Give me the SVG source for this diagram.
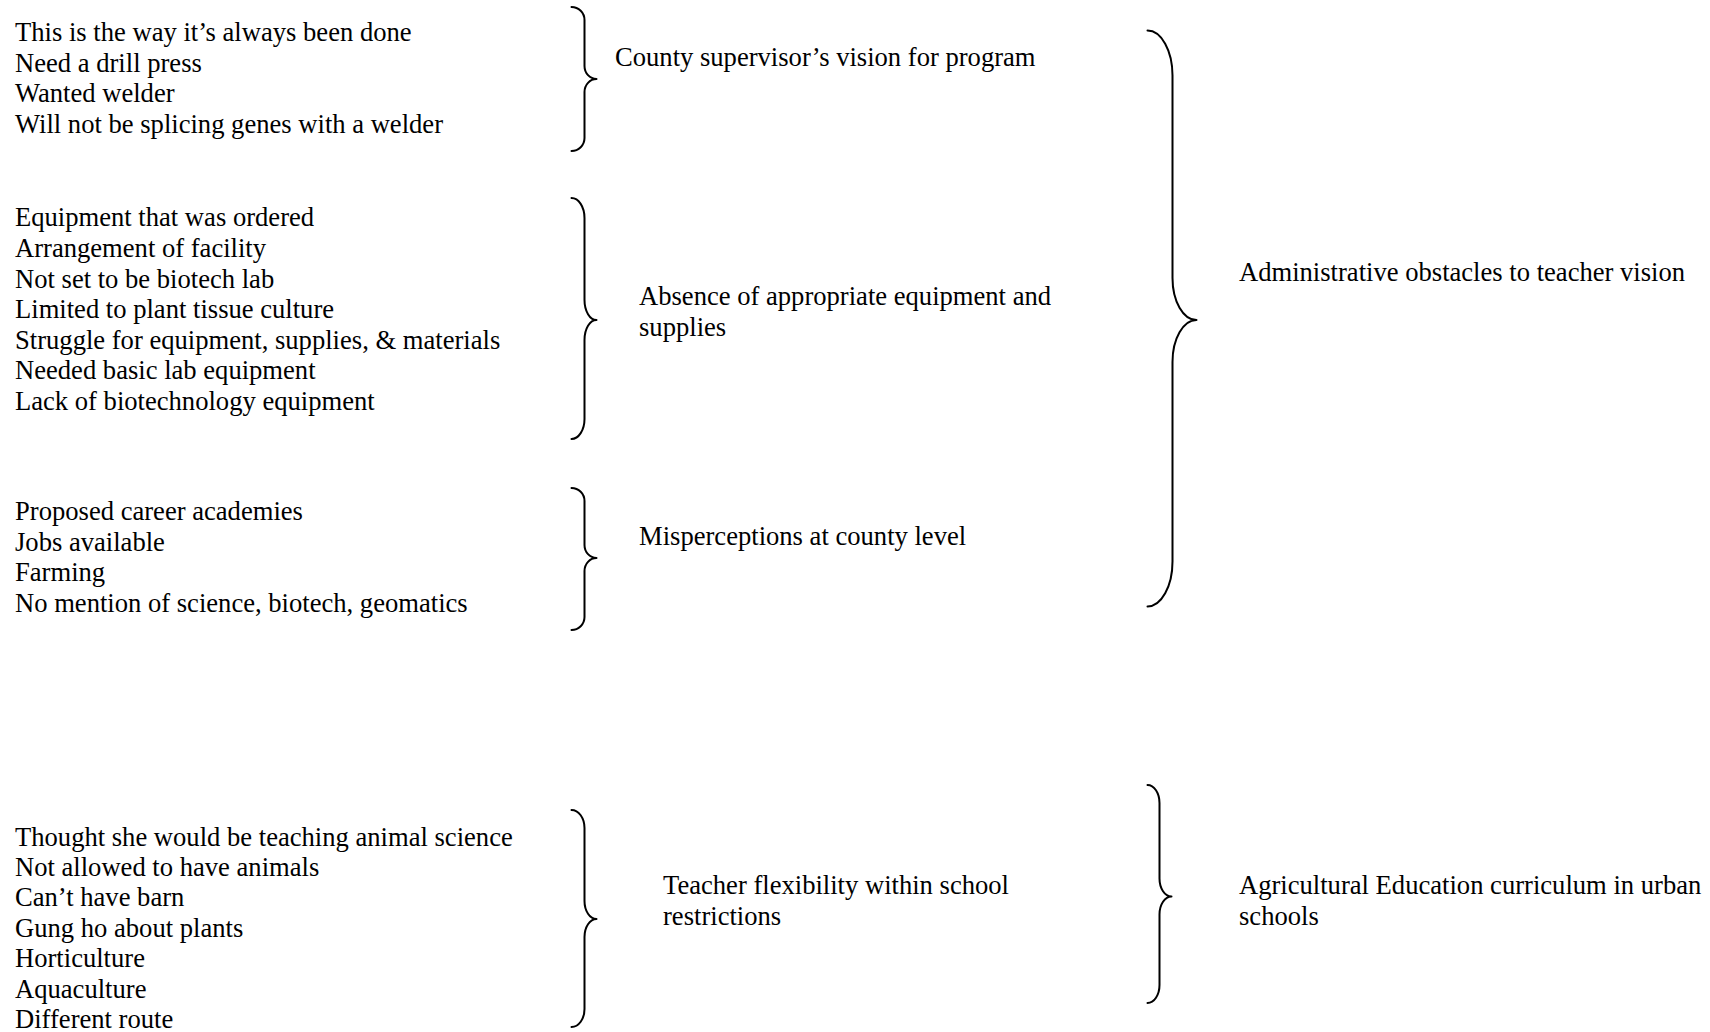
<svg xmlns="http://www.w3.org/2000/svg" width="1710" height="1032" viewBox="0 0 1710 1032">
<style>
text{font-family:"Liberation Serif","Times New Roman",serif;font-size:26.6px;fill:#000}
.br{fill:none;stroke:#000;stroke-width:2;stroke-linecap:round;stroke-linejoin:round}
</style>
<rect width="1710" height="1032" fill="#fff"/>
<g id="connectors">
<path class="br" d="M571.5,7 A13,13 0 0 1 584.5,20 L584.5,66 A12,13 0 0 0 596.5,79 A12,13 0 0 0 584.5,92 L584.5,138 A13,13 0 0 1 571.5,151"/>
<path class="br" d="M571.5,198 A13,20 0 0 1 584.5,218 L584.5,300 A12,20 0 0 0 596.5,320 A12,20 0 0 0 584.5,340 L584.5,419 A13,20 0 0 1 571.5,439"/>
<path class="br" d="M571.5,488 A13,13 0 0 1 584.5,501 L584.5,545 A12,13 0 0 0 596.5,558 A12,13 0 0 0 584.5,571 L584.5,617 A13,13 0 0 1 571.5,630"/>
<path class="br" d="M571.5,810 A13,18 0 0 1 584.5,828 L584.5,901 A12,18 0 0 0 596.5,919 A12,18 0 0 0 584.5,937 L584.5,1009 A13,18 0 0 1 571.5,1027"/>
<path class="br" d="M1147.5,785 A12,18 0 0 1 1159.5,803 L1159.5,878.5 A12,18 0 0 0 1171.5,896.5 A12,18 0 0 0 1159.5,914.5 L1159.5,985 A12,18 0 0 1 1147.5,1003"/>
<path class="br" d="M1147.5,30.5 A25,45 0 0 1 1172.5,75.5 L1172.5,278 A24,42 0 0 0 1196.5,320 A24,42 0 0 0 1172.5,362 L1172.5,561.5 A25,45 0 0 1 1147.5,606.5"/>
</g>
<g id="group-county-items">
<text x="15" y="41">This is the way it’s always been done</text>
<text x="15" y="71.6">Need a drill press</text>
<text x="15" y="102.2">Wanted welder</text>
<text x="15" y="132.8">Will not be splicing genes with a welder</text>
</g>
<g id="group-equipment-items">
<text x="15" y="226.4">Equipment that was ordered</text>
<text x="15" y="257">Arrangement of facility</text>
<text x="15" y="287.6">Not set to be biotech lab</text>
<text x="15" y="318.2">Limited to plant tissue culture</text>
<text x="15" y="348.8">Struggle for equipment, supplies, &amp; materials</text>
<text x="15" y="379.4">Needed basic lab equipment</text>
<text x="15" y="410">Lack of biotechnology equipment</text>
</g>
<g id="group-misperception-items">
<text x="15" y="520">Proposed career academies</text>
<text x="15" y="550.6">Jobs available</text>
<text x="15" y="581.2">Farming</text>
<text x="15" y="611.8">No mention of science, biotech, geomatics</text>
</g>
<g id="group-flexibility-items">
<text x="15" y="845.5">Thought she would be teaching animal science</text>
<text x="15" y="875.9">Not allowed to have animals</text>
<text x="15" y="906.3">Can’t have barn</text>
<text x="15" y="936.7">Gung ho about plants</text>
<text x="15" y="967.1">Horticulture</text>
<text x="15" y="997.5">Aquaculture</text>
<text x="15" y="1027.9">Different route</text>
</g>
<g id="node-county-vision">
<text x="615" y="66">County supervisor’s vision for program</text>
</g>
<g id="node-absence-equipment">
<text x="639" y="305">Absence of appropriate equipment and</text>
<text x="639" y="335.6">supplies</text>
</g>
<g id="node-misperceptions">
<text x="639" y="545">Misperceptions at county level</text>
</g>
<g id="node-teacher-flexibility">
<text x="663" y="894">Teacher flexibility within school</text>
<text x="663" y="924.6">restrictions</text>
</g>
<g id="node-administrative-obstacles">
<text x="1239" y="281">Administrative obstacles to teacher vision</text>
</g>
<g id="node-ag-curriculum">
<text x="1239" y="894">Agricultural Education curriculum in urban</text>
<text x="1239" y="924.6">schools</text>
</g>
</svg>
